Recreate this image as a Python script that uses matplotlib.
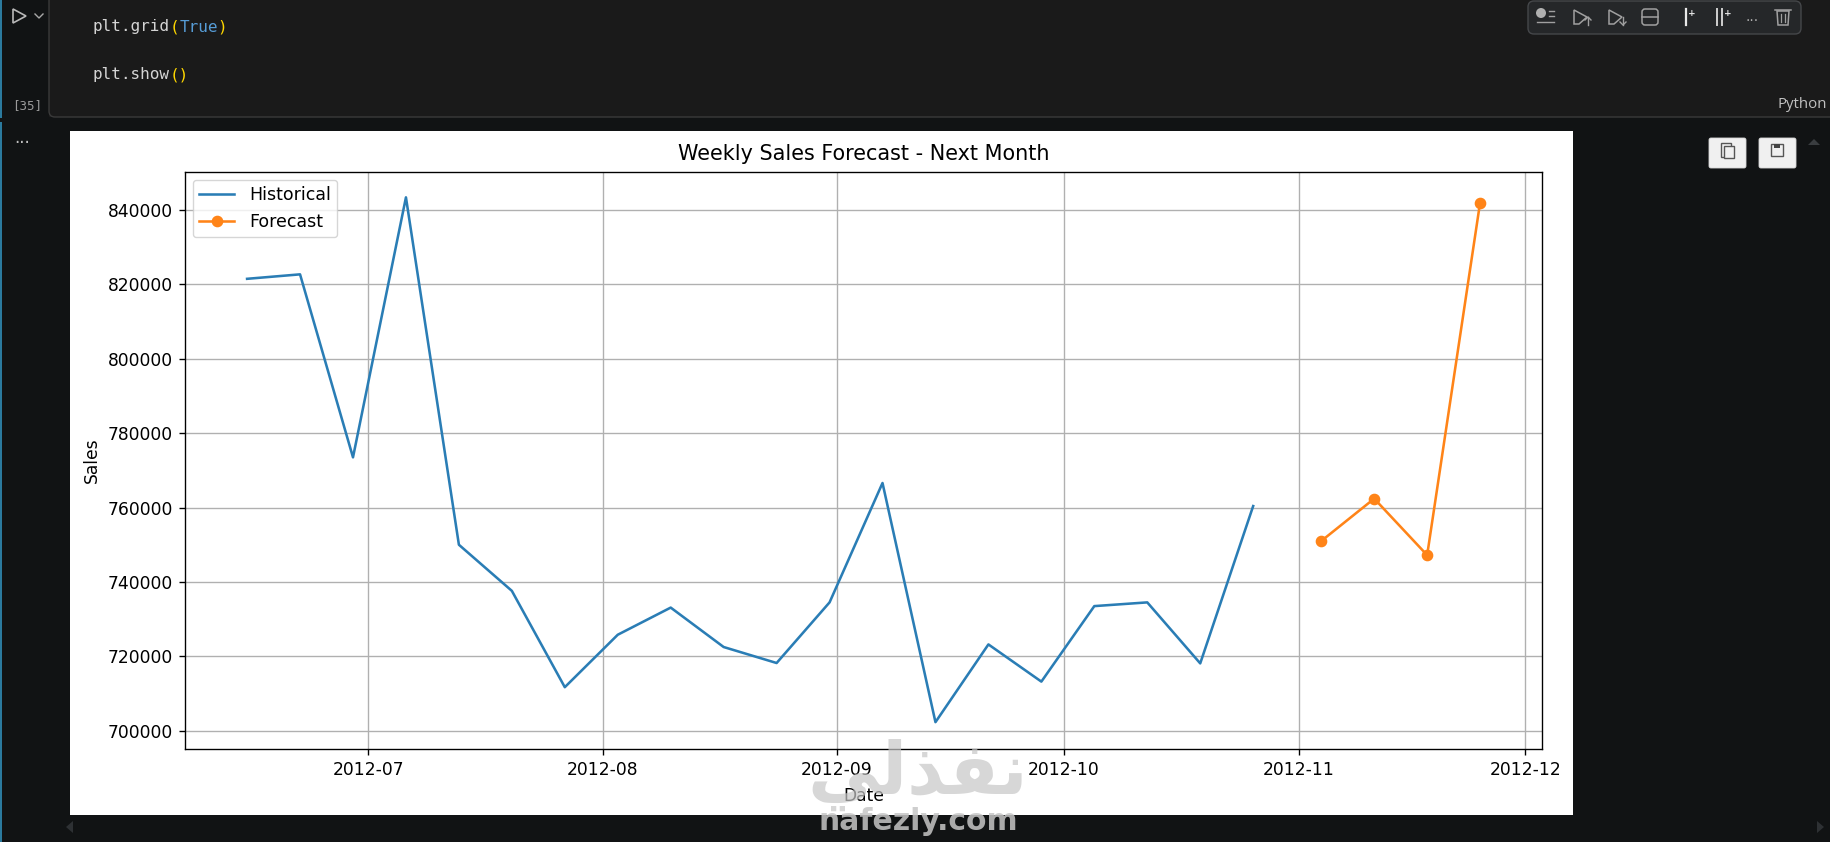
import matplotlib
matplotlib.use('Agg')
import pandas as pd
from matplotlib import pyplot as plt
from matplotlib.patches import Rectangle, FancyBboxPatch, Polygon

W, H = 1831, 842
S = 1.23  # screenshot is a scaled up notebook output

hist_dates = ['2012-06-15', '2012-06-22', '2012-06-29', '2012-07-06', '2012-07-13',
              '2012-07-20', '2012-07-27', '2012-08-03', '2012-08-10', '2012-08-17',
              '2012-08-24', '2012-08-31', '2012-09-07', '2012-09-14', '2012-09-21',
              '2012-09-28', '2012-10-05', '2012-10-12', '2012-10-19', '2012-10-26']
hist_sales = [821500, 822700, 773500, 843400, 750000,
              737600, 711700, 725800, 733100, 722500,
              718200, 734500, 766600, 702300, 723200,
              713200, 733500, 734500, 718100, 760400]
fc_dates = ['2012-11-04', '2012-11-11', '2012-11-18', '2012-11-25']
fc_sales = [751000, 762400, 747200, 842000]

plt.rcParams['font.family'] = ['DejaVu Sans']
plt.rcParams['font.size'] = 10 * S
plt.rcParams['axes.linewidth'] = 0.8 * S
plt.rcParams['xtick.major.size'] = 3.5 * S
plt.rcParams['ytick.major.size'] = 3.5 * S
plt.rcParams['xtick.major.width'] = 0.8 * S
plt.rcParams['ytick.major.width'] = 0.8 * S
plt.rcParams['xtick.major.pad'] = 3.5 * S
plt.rcParams['ytick.major.pad'] = 3.5 * S

fig = plt.figure(figsize=(W / 100, H / 100), dpi=100, facecolor='#111314')

# notebook chrome, in screenshot pixels
bg = fig.add_axes([0, 0, 1, 1], zorder=0)
bg.set_xlim(0, W)
bg.set_ylim(H, 0)
bg.axis('off')

bg.add_patch(Rectangle((0, 0), W, 117, color='#1a1a1a', lw=0))
bg.add_patch(Rectangle((0, 0), 49, 117, color='#111314', lw=0))
bg.add_patch(FancyBboxPatch((49, -20), W + 20, 137, boxstyle='round,pad=0,rounding_size=6',
                            fc='#1a1a1a', ec='#3a3a3a', lw=1))
bg.add_patch(Rectangle((0, 0), 2.5, 118, color='#2b7a9e', lw=0))
bg.add_patch(Rectangle((0, 122), 2.5, 720, color='#2b7a9e', lw=0))
bg.add_patch(Rectangle((70, 131), 1503, 684, color='white', lw=0))

# run button + chevron
bg.add_patch(Polygon([(13, 9), (26, 16), (13, 23)], closed=True, fc='none', ec='#b8b8b8', lw=1.2))
bg.plot([35, 39, 43], [14, 18, 14], color='#a8a8a8', lw=1)

# code lines
CW = 9.6
def code(x, y, parts):
    for s, c in parts:
        bg.text(x, y, s, color=c, family='DejaVu Sans Mono', fontsize=11.5, va='center', ha='left')
        x += CW * len(s)

code(93, 27, [('plt.grid', '#d4d4d4'), ('(', '#ffd700'), ('True', '#569cd6'), (')', '#ffd700')])
code(93, 75, [('plt.show', '#d4d4d4'), ('()', '#ffd700')])

bg.text(27, 106, '[35]', color='#9a9a9a', family='DejaVu Sans Mono', fontsize=9, va='center', ha='center')
bg.text(22, 138, '...', color='#c0c0c0', fontsize=12, va='center', ha='center')
bg.text(1827, 104, 'Python', color='#c0c0c0', family='Open Sans', fontsize=10.8, va='center', ha='right')

# cell toolbar
bg.add_patch(FancyBboxPatch((1528, 1), 273, 33, boxstyle='round,pad=0,rounding_size=6',
                            fc='#252729', ec='#45474a', lw=1))
bg.add_patch(plt.Circle((1541, 13), 5, fc='#b0b0b0', ec='none'))
for y0, x0 in [(11, 1549), (16, 1549), (22, 1537)]:
    bg.plot([x0, 1554], [y0, y0], color='#a0a0a0', lw=1)
for x0, up in [(1574, True), (1609, False)]:
    bg.add_patch(Polygon([(x0, 10), (x0 + 13, 17), (x0 + 5, 24), (x0, 24)], closed=True,
                         fc='none', ec='#a0a0a0', lw=1.1))
    bg.plot([x0 + 14, x0 + 14], [17, 25], color='#a0a0a0', lw=1)
    tip = 17 if up else 25
    side = 3 if up else -3
    bg.plot([x0 + 11, x0 + 14, x0 + 17], [tip + side, tip, tip + side], color='#a0a0a0', lw=1)
bg.add_patch(FancyBboxPatch((1642, 9), 16, 16, boxstyle='round,pad=0,rounding_size=3',
                            fc='none', ec='#a0a0a0', lw=1.1))
bg.plot([1642, 1658], [17, 17], color='#a0a0a0', lw=1.1)
bg.plot([1686, 1686], [9, 25], color='#e8e8e8', lw=1.6)
bg.text(1692, 13, '+', color='#e8e8e8', fontsize=6.5, va='center', ha='center', weight='bold')
bg.plot([1717, 1717], [9, 25], color='#d0d0d0', lw=1.4)
bg.plot([1722, 1722], [9, 25], color='#d0d0d0', lw=1.4)
bg.text(1728, 13, '+', color='#e8e8e8', fontsize=6.5, va='center', ha='center', weight='bold')
bg.text(1752, 17, '...', color='#b0b0b0', fontsize=10, va='center', ha='center')
bg.add_patch(Polygon([(1777, 11), (1789, 11), (1788, 25), (1778, 25)], closed=True,
                     fc='none', ec='#a0a0a0', lw=1.1))
bg.plot([1775, 1791], [10, 10], color='#a0a0a0', lw=1.1)
bg.plot([1781, 1781], [14, 22], color='#a0a0a0', lw=0.9)
bg.plot([1785, 1785], [14, 22], color='#a0a0a0', lw=0.9)

# output buttons
for x0 in [1709, 1759]:
    bg.add_patch(FancyBboxPatch((x0, 138), 37, 30, boxstyle='round,pad=0,rounding_size=2',
                                fc='#f0f0f0', ec='#d8d8d8', lw=0.6))
bg.add_patch(Rectangle((1721, 143), 10, 14, fc='none', ec='#555555', lw=1))
bg.add_patch(Rectangle((1724, 146), 10, 12, fc='#f0f0f0', ec='#555555', lw=1))
bg.add_patch(Rectangle((1771, 144), 12, 12, fc='none', ec='#555555', lw=1))
bg.add_patch(Rectangle((1774, 144), 6, 4, fc='#444444', ec='none'))

# scrollbar arrows
bg.add_patch(Polygon([(1808, 145), (1820, 145), (1814, 139)], closed=True, fc='#3a3d40', ec='none'))
bg.add_patch(Polygon([(66, 827), (73, 821), (73, 833)], closed=True, fc='#2e3134', ec='none'))
bg.add_patch(Polygon([(1817, 821), (1817, 833), (1824, 827)], closed=True, fc='#2e3134', ec='none'))

# the chart
left, right, top, bottom = 185, 1542.2, 171.7, 749
ax = fig.add_axes([left / W, 1 - bottom / H, (right - left) / W, (bottom - top) / H], zorder=2)
ax.plot(pd.to_datetime(hist_dates), hist_sales, color='#2a7db5', lw=1.5 * S, label='Historical')
ax.plot(pd.to_datetime(fc_dates), fc_sales, color='#ff8418', lw=1.5 * S, marker='o', ms=6 * S, label='Forecast')
ax.set_xlim(pd.Timestamp('2012-06-06 19:00'), pd.Timestamp('2012-12-03 05:00'))
ax.set_ylim(695080, 850300)
ax.set_title('Weekly Sales Forecast - Next Month', pad=7 * S, fontsize=12.15 * S)
ax.set_xlabel('Date', labelpad=4 * S + 1)
ax.set_ylabel('Sales', labelpad=4 * S)
ax.grid(True, color='#b0b0b0', lw=0.8 * S)
ax.legend(loc='upper left', fontsize=10.15 * S, labelspacing=0.5, handletextpad=0.85,
          borderaxespad=0.45, borderpad=0.38)

# watermark over everything
wm = fig.add_axes([0, 0, 1, 1], zorder=5)
wm.set_xlim(0, W)
wm.set_ylim(H, 0)
wm.axis('off')
wm.patch.set_alpha(0)
wm.text(918, 775, '\ufef2\ufedf\ufeac\ufed4\ufee7', color='#c6c6c6', alpha=0.7, fontsize=52,
        weight='bold', family='DejaVu Sans', va='center', ha='center')
wm.text(918, 822, 'nafezly.com', color='#c6c6c6', alpha=0.85, fontsize=21.5, weight='bold',
        family='DejaVu Sans', va='center', ha='center')

fig.savefig('out.png', dpi=100, facecolor=fig.get_facecolor())
